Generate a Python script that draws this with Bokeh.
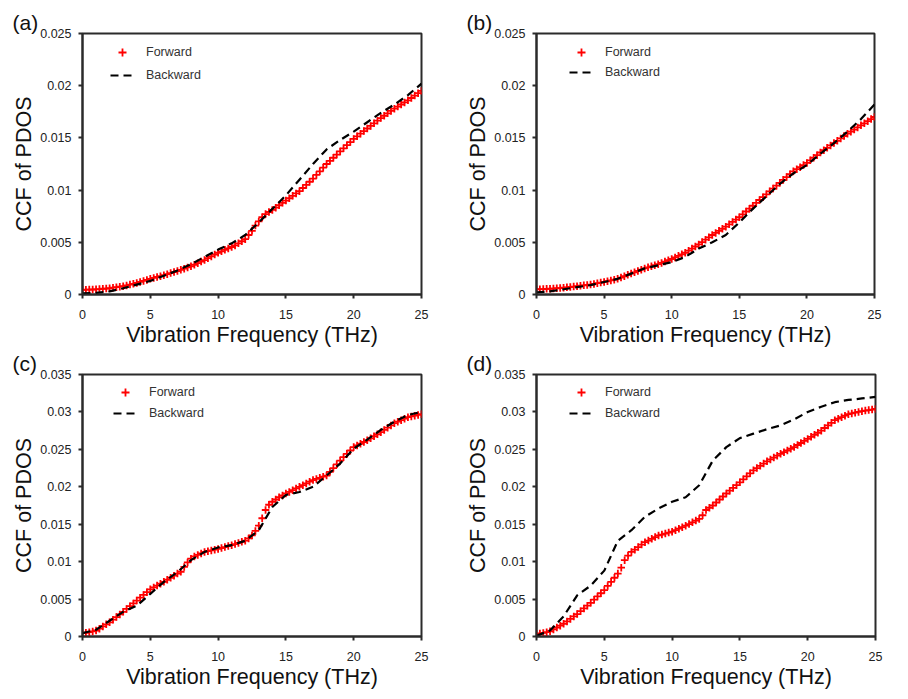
from bokeh.plotting import figure
from bokeh.layouts import column, row
from bokeh.models import Legend, LegendItem, FixedTicker, Range1d, CustomJSTickFormatter
from bokeh.embed import file_html
from bokeh.resources import INLINE

# ---------------- data ----------------
FREQ_FWD = [i * 0.25 for i in range(101)]          # THz, sampling of Forward markers
FREQ_BWD = [float(i) for i in range(26)]            # THz, sampling of Backward line

A_FWD = [
    0.00045, 0.00046, 0.00047, 0.00048,
    0.00050, 0.00052, 0.00055, 0.00057,
    0.00060, 0.00065, 0.00070, 0.00075,
    0.00080, 0.00087, 0.00095, 0.00102,
    0.00110, 0.00120, 0.00130, 0.00140,
    0.00150, 0.00159, 0.00168, 0.00176,
    0.00185, 0.00195, 0.00205, 0.00215,
    0.00225, 0.00236, 0.00247, 0.00259,
    0.00270, 0.00285, 0.00300, 0.00315,
    0.00330, 0.00348, 0.00365, 0.00383,
    0.00400, 0.00414, 0.00428, 0.00441,
    0.00455, 0.00470, 0.00490, 0.00510,
    0.00530, 0.00570, 0.00610, 0.00660,
    0.00700, 0.00740, 0.00770, 0.00790,
    0.00810, 0.00832, 0.00855, 0.00878,
    0.00900, 0.00922, 0.00945, 0.00968,
    0.00990, 0.01020, 0.01050, 0.01080,
    0.01110, 0.01145, 0.01180, 0.01215,
    0.01250, 0.01280, 0.01310, 0.01340,
    0.01370, 0.01400, 0.01430, 0.01460,
    0.01490, 0.01515, 0.01540, 0.01565,
    0.01590, 0.01615, 0.01640, 0.01665,
    0.01690, 0.01712, 0.01735, 0.01758,
    0.01780, 0.01800, 0.01820, 0.01840,
    0.01860, 0.01882, 0.01905, 0.01928,
    0.01950,
]
A_BWD = [0.0001, 0.00015, 0.0003, 0.0006, 0.00095, 0.0013, 0.0018, 0.0023, 0.0029,
         0.0036, 0.0043, 0.0049, 0.0057, 0.0069, 0.0082, 0.0095, 0.0110, 0.0125,
         0.0139, 0.0148, 0.0156, 0.0165, 0.0174, 0.0182, 0.0191, 0.0202]

B_FWD = [
    0.00050, 0.00051, 0.00052, 0.00054,
    0.00055, 0.00057, 0.00060, 0.00062,
    0.00065, 0.00069, 0.00072, 0.00076,
    0.00080, 0.00084, 0.00088, 0.00091,
    0.00095, 0.00101, 0.00108, 0.00114,
    0.00120, 0.00127, 0.00135, 0.00142,
    0.00150, 0.00162, 0.00175, 0.00188,
    0.00200, 0.00212, 0.00225, 0.00238,
    0.00250, 0.00260, 0.00270, 0.00280,
    0.00290, 0.00302, 0.00315, 0.00328,
    0.00340, 0.00355, 0.00370, 0.00385,
    0.00400, 0.00420, 0.00440, 0.00460,
    0.00480, 0.00502, 0.00525, 0.00548,
    0.00570, 0.00590, 0.00610, 0.00630,
    0.00650, 0.00672, 0.00695, 0.00718,
    0.00740, 0.00768, 0.00795, 0.00822,
    0.00850, 0.00878, 0.00905, 0.00932,
    0.00960, 0.00988, 0.01015, 0.01042,
    0.01070, 0.01098, 0.01125, 0.01152,
    0.01180, 0.01200, 0.01220, 0.01240,
    0.01260, 0.01285, 0.01310, 0.01335,
    0.01360, 0.01382, 0.01405, 0.01428,
    0.01450, 0.01472, 0.01495, 0.01518,
    0.01540, 0.01560, 0.01580, 0.01600,
    0.01620, 0.01640, 0.01660, 0.01680,
    0.01700,
]
B_BWD = [0.0002, 0.0003, 0.0005, 0.0007, 0.0009, 0.0012, 0.0015, 0.0020, 0.0025,
         0.0028, 0.0031, 0.0036, 0.0044, 0.0050, 0.0057, 0.0069, 0.0082, 0.0094,
         0.0106, 0.0116, 0.0124, 0.0135, 0.0145, 0.0156, 0.0168, 0.0182]

C_FWD = [
    0.00045, 0.00050, 0.00058, 0.00068,
    0.00080, 0.00105, 0.00135, 0.00162,
    0.00190, 0.00225, 0.00260, 0.00295,
    0.00330, 0.00368, 0.00405, 0.00442,
    0.00480, 0.00518, 0.00555, 0.00592,
    0.00630, 0.00655, 0.00680, 0.00705,
    0.00730, 0.00758, 0.00785, 0.00812,
    0.00840, 0.00865, 0.00930, 0.00990,
    0.01040, 0.01070, 0.01090, 0.01110,
    0.01130, 0.01140, 0.01150, 0.01160,
    0.01170, 0.01182, 0.01195, 0.01208,
    0.01220, 0.01235, 0.01250, 0.01265,
    0.01280, 0.01310, 0.01350, 0.01410,
    0.01480, 0.01580, 0.01690, 0.01760,
    0.01800, 0.01830, 0.01860, 0.01885,
    0.01910, 0.01932, 0.01955, 0.01978,
    0.02000, 0.02022, 0.02045, 0.02068,
    0.02090, 0.02105, 0.02120, 0.02135,
    0.02150, 0.02200, 0.02250, 0.02300,
    0.02350, 0.02395, 0.02440, 0.02485,
    0.02530, 0.02552, 0.02575, 0.02598,
    0.02620, 0.02648, 0.02675, 0.02702,
    0.02730, 0.02760, 0.02790, 0.02820,
    0.02850, 0.02870, 0.02890, 0.02910,
    0.02930, 0.02940, 0.02950, 0.02960,
    0.02970,
]
C_BWD = [0.00045, 0.0009, 0.0021, 0.0033, 0.0041, 0.0057, 0.0073, 0.0086, 0.0102,
         0.0113, 0.0119, 0.0122, 0.0128, 0.0142, 0.0173, 0.0189, 0.0193, 0.0200,
         0.0215, 0.0231, 0.0251, 0.0263, 0.0276, 0.0287, 0.0296, 0.0300]

D_FWD = [
    0.00035, 0.00040, 0.00048, 0.00058,
    0.00070, 0.00095, 0.00120, 0.00145,
    0.00170, 0.00202, 0.00235, 0.00268,
    0.00300, 0.00338, 0.00375, 0.00412,
    0.00450, 0.00492, 0.00535, 0.00578,
    0.00620, 0.00675, 0.00730, 0.00785,
    0.00840, 0.00920, 0.01020, 0.01080,
    0.01130, 0.01160, 0.01195, 0.01228,
    0.01260, 0.01282, 0.01305, 0.01328,
    0.01350, 0.01362, 0.01375, 0.01388,
    0.01400, 0.01420, 0.01440, 0.01460,
    0.01480, 0.01502, 0.01525, 0.01548,
    0.01570, 0.01620, 0.01690, 0.01720,
    0.01750, 0.01790, 0.01830, 0.01870,
    0.01910, 0.01948, 0.01985, 0.02022,
    0.02060, 0.02100, 0.02140, 0.02180,
    0.02220, 0.02250, 0.02280, 0.02310,
    0.02340, 0.02365, 0.02390, 0.02415,
    0.02440, 0.02462, 0.02485, 0.02508,
    0.02530, 0.02558, 0.02585, 0.02612,
    0.02640, 0.02668, 0.02695, 0.02722,
    0.02750, 0.02785, 0.02820, 0.02855,
    0.02890, 0.02910, 0.02930, 0.02950,
    0.02970, 0.02980, 0.02990, 0.03000,
    0.03010, 0.03018, 0.03025, 0.03032,
    0.03040,
]
D_BWD = [0.0001, 0.0008, 0.0027, 0.0055, 0.0068, 0.0088, 0.0128, 0.0142, 0.0160,
         0.0171, 0.0180, 0.0186, 0.0202, 0.0235, 0.0253, 0.0265, 0.0271, 0.0277,
         0.0282, 0.0290, 0.0300, 0.0307, 0.0313, 0.0316, 0.0318, 0.0320]

X_TICKS = [0, 5, 10, 15, 20, 25]
Y_TICKS_AB = [0, 0.005, 0.01, 0.015, 0.02, 0.025]
Y_TICKS_CD = [0, 0.005, 0.01, 0.015, 0.02, 0.025, 0.03, 0.035]
PANEL_TAGS = ["(a)", "(b)", "(c)", "(d)"]
X_LABEL = "Vibration Frequency (THz)"
Y_LABEL = "CCF of PDOS"
LEGEND_NAMES = ["Forward", "Backward"]

FONT = "Liberation Sans"
DARK = "#2b2b2b"


def make_panel(tag, fwd, bwd, ymax, yticks, width, height, borders, legend_cfg):
    left, right, top, bottom = borders
    p = figure(width=width, height=height, output_backend="svg", toolbar_location=None,
               x_range=Range1d(0, 25), y_range=Range1d(0, ymax),
               min_border_left=left, min_border_right=right,
               min_border_top=top, min_border_bottom=bottom,
               background_fill_color="white", border_fill_color="white")
    p.grid.visible = False
    p.outline_line_color = DARK
    p.outline_line_width = 2
    p.outline_line_alpha = 1

    # panel tag "(a)" ... as a left-aligned title sitting above the frame
    p.title.text = tag
    p.title.align = "left"
    p.title.offset = -70
    p.title.standoff = 0
    p.title.text_font = FONT
    p.title.text_font_size = "21px"
    p.title.text_font_style = "normal"
    p.title.text_color = "#111111"

    for ax in (p.xaxis[0], p.yaxis[0]):
        ax.axis_line_color = DARK
        ax.axis_line_width = 2
        ax.major_tick_line_color = DARK
        ax.major_tick_line_width = 2
        ax.major_tick_out = 4
        ax.major_tick_in = 0
        ax.minor_tick_line_color = None
        ax.major_label_text_font = FONT
        ax.major_label_text_font_size = "12.5px"
        ax.major_label_text_color = "#222222"
        ax.axis_label_text_font = FONT
        ax.axis_label_text_font_size = "21.5px"
        ax.axis_label_text_font_style = "normal"
        ax.axis_label_text_color = "#111111"

    p.xaxis[0].ticker = FixedTicker(ticks=X_TICKS)
    p.yaxis[0].ticker = FixedTicker(ticks=yticks)
    p.yaxis[0].formatter = CustomJSTickFormatter(code="return String(+tick.toFixed(3));")
    p.xaxis[0].axis_label = X_LABEL
    p.yaxis[0].axis_label = Y_LABEL
    p.xaxis[0].major_label_standoff = 11
    p.xaxis[0].axis_label_standoff = 1
    p.yaxis[0].major_label_standoff = 7
    p.yaxis[0].axis_label_standoff = 1

    r_f = p.scatter(FREQ_FWD, fwd, marker="cross", size=7.5, line_color="#ff0000",
                    line_width=1.8)
    r_b = p.line(FREQ_BWD, bwd, line_color="black", line_width=2.2, line_dash="8 5")

    lx, ly, spacing = legend_cfg
    leg = Legend(items=[LegendItem(label=LEGEND_NAMES[0], renderers=[r_f]),
                        LegendItem(label=LEGEND_NAMES[1], renderers=[r_b])],
                 location=(lx, ly), margin=0, padding=0, spacing=spacing,
                 glyph_width=24, glyph_height=20, label_height=20, label_standoff=12,
                 label_text_font=FONT, label_text_font_size="12.5px",
                 label_text_color="#333333",
                 border_line_alpha=0, background_fill_alpha=0)
    p.add_layout(leg)
    return p


pa = make_panel(PANEL_TAGS[0], A_FWD, A_BWD, 0.025, Y_TICKS_AB, 454, 349,
                (82, 33, 33, 55), (28, 209, 3))
pb = make_panel(PANEL_TAGS[1], B_FWD, B_BWD, 0.025, Y_TICKS_AB, 454, 349,
                (82, 34, 33, 55), (33, 212, 0))
pc = make_panel(PANEL_TAGS[2], C_FWD, C_BWD, 0.035, Y_TICKS_CD, 454, 350,
                (82, 33, 25, 63), (31, 213, 1))
pd = make_panel(PANEL_TAGS[3], D_FWD, D_BWD, 0.035, Y_TICKS_CD, 454, 350,
                (82, 33, 25, 63), (33, 213, 1))

layout = column(row(pa, pb), row(pc, pd))
open("out.html", "w").write(file_html(layout, INLINE))
